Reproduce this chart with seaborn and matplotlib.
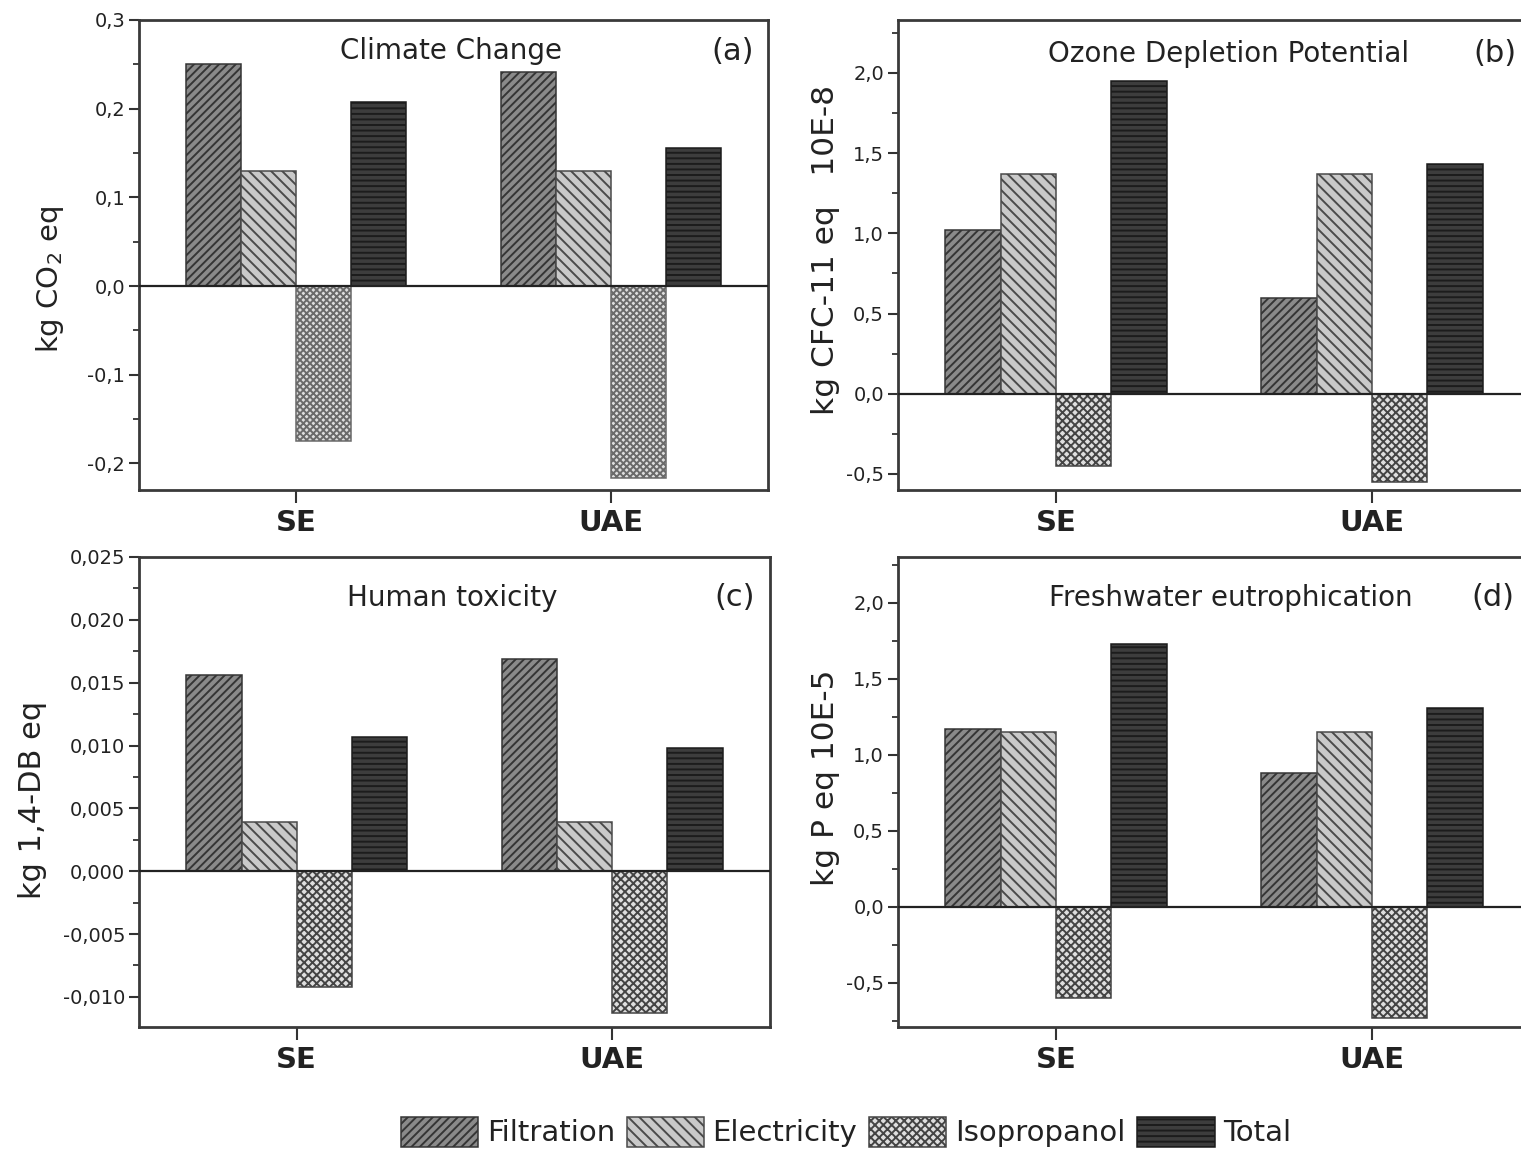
import matplotlib
matplotlib.use("Agg")
import matplotlib.pyplot as plt
import numpy as np
import pandas as pd
import seaborn as sns
from matplotlib.ticker import MultipleLocator, FuncFormatter

# ---- data -------------------------------------------------------------
sites = ["SE", "UAE"]
processes = ["Filtration", "Electricity", "Isopropanol", "Total"]

# (a) Climate change, kg CO2 eq
climate_se = [0.250, 0.130, -0.175, 0.207]
climate_uae = [0.241, 0.130, -0.216, 0.156]

# (b) Ozone depletion potential, kg CFC-11 eq x 10E-8
ozone_se = [1.02, 1.37, -0.45, 1.95]
ozone_uae = [0.60, 1.37, -0.55, 1.43]

# (c) Human toxicity, kg 1,4-DB eq
toxicity_se = [0.0156, 0.0039, -0.0092, 0.0107]
toxicity_uae = [0.0169, 0.0039, -0.0113, 0.0098]

# (d) Freshwater eutrophication, kg P eq x 10E-5
eutroph_se = [1.17, 1.15, -0.60, 1.73]
eutroph_uae = [0.88, 1.15, -0.73, 1.31]

# ---- style ------------------------------------------------------------
sns.set_style("ticks")
plt.rcParams["font.family"] = ["DejaVu Sans"]
plt.rcParams["hatch.linewidth"] = 1.4
plt.rcParams["axes.edgecolor"] = "#333333"
plt.rcParams["text.color"] = "#222222"
plt.rcParams["xtick.color"] = "#333333"
plt.rcParams["ytick.color"] = "#333333"
plt.rcParams["xtick.labelcolor"] = "#222222"
plt.rcParams["ytick.labelcolor"] = "#222222"

fills = {"Filtration": "#8a8a8a", "Electricity": "#c9c9c9",
         "Isopropanol": "#dedede", "Total": "#3d3d3d"}
edges = {"Filtration": "#353535", "Electricity": "#4a4a4a",
         "Isopropanol": "#444444", "Total": "#1c1c1c"}
hatches = {"Filtration": "////", "Electricity": "\\\\\\",
           "Isopropanol": "xxxx", "Total": "---"}

W, H = 1521, 1150
fig = plt.figure(figsize=(W / 100, H / 100), dpi=100)


def px_axes(left, top, right, bottom):
    return fig.add_axes([left / W, 1 - bottom / H, (right - left) / W, (bottom - top) / H])


def comma_fmt(decimals):
    return FuncFormatter(lambda v, _: f"{v:.{decimals}f}".replace(".", ","))


def panel(ax, se, uae, ylim, major, decimals, title, tag, title_x, tag_x, text_y,
          iso_hatch="xxxx", iso_edge="#444444"):
    df = pd.DataFrame({
        "site": np.repeat(sites, len(processes)),
        "process": processes * len(sites),
        "value": list(se) + list(uae),
    })
    sns.barplot(data=df, x="site", y="value", hue="process", order=sites,
                hue_order=processes, palette=fills, width=0.7, errorbar=None,
                legend=False, ax=ax, zorder=2)
    for proc, cont in zip(processes, ax.containers):
        for bar in cont:
            bar.set_linewidth(1.1)
            if proc == "Isopropanol":
                bar.set_edgecolor(iso_edge)
                bar.set_hatch(iso_hatch)
            else:
                bar.set_edgecolor(edges[proc])
                bar.set_hatch(hatches[proc])
    ax.axhline(0, color="#222222", lw=1.6, zorder=3)
    ax.set_xlim(-0.5, 1.5)
    ax.set_ylim(*ylim)
    ax.yaxis.set_major_locator(MultipleLocator(major))
    ax.yaxis.set_minor_locator(MultipleLocator(major / 2))
    ax.yaxis.set_major_formatter(comma_fmt(decimals))
    ax.set_xlabel("")
    ax.set_ylabel("")
    for s in ax.spines.values():
        s.set_visible(True)
        s.set_linewidth(2)
        s.set_color("#3a3a3a")
    ax.tick_params(axis="y", which="major", direction="out", length=7, width=1.5,
                   labelsize=14, pad=3)
    ax.tick_params(axis="y", which="minor", direction="out", length=4.5, width=1.3)
    ax.tick_params(axis="x", which="major", direction="out", length=9, width=1.5,
                   labelsize=21, pad=5)
    ax.set_xticks([0, 1])
    ax.set_xticklabels(sites, fontweight="bold")
    ax.text(title_x, text_y, title, transform=ax.transAxes, ha="center",
            va="center", fontsize=20)
    ax.text(tag_x, text_y, tag, transform=ax.transAxes, ha="center",
            va="center", fontsize=22)


ax_a = px_axes(139, 20, 768, 490)
ax_b = px_axes(898, 20, 1530, 490)
ax_c = px_axes(139, 557, 770, 1027)
ax_d = px_axes(898, 557, 1530, 1027)

panel(ax_a, climate_se, climate_uae, (-0.23, 0.3), 0.1, 1,
      "Climate Change", "(a)", 0.496, 0.944, 0.934,
      iso_hatch="xxxxx", iso_edge="#6a6a6a")
panel(ax_b, ozone_se, ozone_uae, (-0.60, 2.33), 0.5, 1,
      "Ozone Depletion Potential", "(b)", 0.523, 0.944, 0.928)
panel(ax_c, toxicity_se, toxicity_uae, (-0.0124, 0.025), 0.005, 3,
      "Human toxicity", "(c)", 0.496, 0.944, 0.913)
panel(ax_d, eutroph_se, eutroph_uae, (-0.79, 2.30), 0.5, 1,
      "Freshwater eutrophication", "(d)", 0.526, 0.942, 0.913)

# y-axis titles placed in figure pixels
def ylab(x, y, s, size):
    fig.text(x / W, 1 - y / H, s, rotation=90, ha="center", va="center", fontsize=size)

ylab(50, 280, "kg CO$_2$ eq", 21)
ylab(826, 250, "kg CFC-11 eq   10E-8", 22.5)
ylab(33, 800, "kg 1,4-DB eq", 22)
ylab(826, 778, "kg P eq 10E-5", 22.5)

handles = [cont.patches[0] for cont in ax_b.containers]
fig.legend(handles, processes, loc="center", bbox_to_anchor=(846 / W, 1 - 1132 / H),
           ncol=4, frameon=False, fontsize=21, handlelength=2.65, handleheight=1.2,
           handletextpad=0.3, columnspacing=0.4, borderaxespad=0)

fig.savefig("out.png", dpi=100, facecolor="white")
